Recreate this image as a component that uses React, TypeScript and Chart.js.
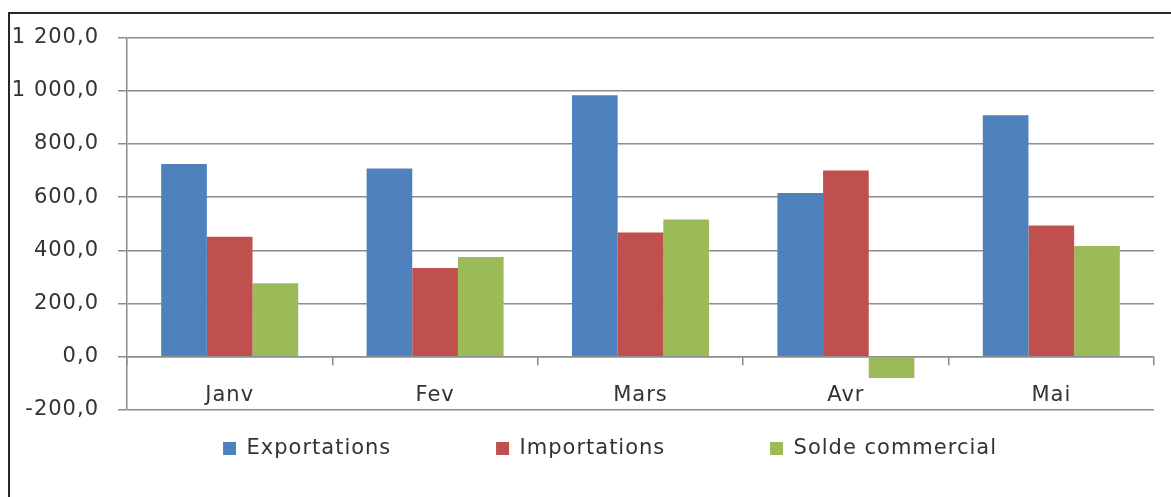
import React, { useEffect, useRef } from 'react';
import { Chart, registerables } from 'chart.js';

Chart.register(...registerables);

const categories = ['Janv', 'Fev', 'Mars', 'Avr', 'Mai'];
const exportations = [725, 708, 983, 616, 908];
const importations = [451, 334, 467, 700, 493];
const soldeCommercial = [276, 375, 516, -80, 416];
const seriesNames = ['Exportations', 'Importations', 'Solde commercial'];
const seriesColors = ['#4F81BD', '#C0504D', '#9BBB59'];
const yMin = -200;
const yMax = 1200;
const yStep = 200;

const FONT = "'DejaVu Sans', sans-serif";
const FONT_SIZE = 21;
const LETTER_SPACING = '1px';
const TEXT_COLOR = '#333333';
const GRID_COLOR = '#8c8c8c';
const LEGEND_TRAIL = [10, 10, 0];

function formatFr(v: number): string {
  const neg = v < 0;
  const [ip, dp] = Math.abs(v).toFixed(1).split('.');
  const withSep = ip.replace(/\B(?=(\d{3})+(?!\d))/g, ' ');
  return (neg ? '-' : '') + withSep + ',' + dp;
}

const spacingPlugin = {
  id: 'letterSpacingPlugin',
  beforeUpdate(chart: any) {
    chart.ctx.letterSpacing = LETTER_SPACING;
  },
  beforeLayout(chart: any) {
    chart.ctx.letterSpacing = LETTER_SPACING;
  },
  beforeDraw(chart: any) {
    chart.ctx.letterSpacing = LETTER_SPACING;
  },
};

export default function App() {
  const canvasRef = useRef<HTMLCanvasElement | null>(null);

  useEffect(() => {
    const canvas = canvasRef.current;
    if (!canvas) return;
    const values = [exportations, importations, soldeCommercial];
    const chart = new Chart(canvas, {
      type: 'bar',
      data: {
        labels: categories,
        datasets: seriesNames.map((name, i) => ({
          label: name,
          data: values[i],
          backgroundColor: seriesColors[i],
          borderWidth: 0,
          categoryPercentage: 0.667,
          barPercentage: 1.0,
        })),
      },
      options: {
        responsive: false,
        maintainAspectRatio: false,
        animation: false,
        devicePixelRatio: 1,
        layout: { padding: { top: 23.5, left: 0, right: 0, bottom: 0 } },
        plugins: {
          tooltip: { enabled: false },
          title: { display: false },
          legend: {
            display: true,
            position: 'bottom',
            labels: {
              boxWidth: 13,
              boxHeight: 13,
              padding: 28,
              color: TEXT_COLOR,
              font: { family: FONT, size: FONT_SIZE },
              generateLabels: (c: any) => {
                const items = (Chart.defaults.plugins.legend.labels as any).generateLabels(c);
                return items.map((it: any, i: number) => ({
                  ...it,
                  text: it.text + ' '.repeat(LEGEND_TRAIL[i] || 0),
                  lineWidth: 0,
                }));
              },
            },
          },
        },
        scales: {
          x: {
            position: { y: 0 } as any,
            offset: true,
            grid: {
              display: true,
              drawOnChartArea: false,
              drawTicks: true,
              tickLength: 8,
              offset: true,
              color: GRID_COLOR,
              lineWidth: 1.5,
            },
            border: { display: true, color: GRID_COLOR, width: 1.5 },
            ticks: {
              color: TEXT_COLOR,
              font: { family: FONT, size: FONT_SIZE },
              padding: 18,
              maxRotation: 0,
              autoSkip: false,
            },
          },
          y: {
            position: 'left',
            min: yMin,
            max: yMax,
            afterFit: (s: any) => {
              s.width = 117;
              s.paddingTop = 0;
              s.paddingBottom = 0;
            },
            grid: {
              display: true,
              drawOnChartArea: true,
              drawTicks: true,
              tickLength: 9,
              color: GRID_COLOR,
              lineWidth: 1.5,
            },
            border: { display: true, color: GRID_COLOR, width: 1.5 },
            ticks: {
              stepSize: yStep,
              color: TEXT_COLOR,
              font: { family: FONT, size: FONT_SIZE },
              padding: 19,
              callback: (v: any) => formatFr(Number(v)),
            },
          },
          yRight: {
            type: 'linear',
            position: 'right',
            display: true,
            afterFit: (s: any) => {
              s.width = 56;
              s.paddingTop = 0;
              s.paddingBottom = 0;
            },
            grid: { display: false, drawTicks: false },
            border: { display: false },
            ticks: { display: false },
          },
        },
      },
      plugins: [spacingPlugin],
    } as any);
    return () => {
      chart.destroy();
    };
  }, []);

  return (
    <div
      style={{
        position: 'absolute',
        left: 8,
        top: 12,
        width: 1161,
        height: 483,
        borderTop: '2px solid #262626',
        borderLeft: '2px solid #262626',
        overflow: 'hidden',
        background: '#ffffff',
      }}
    >
      <canvas
        ref={canvasRef}
        width={1200}
        height={455}
        style={{ position: 'absolute', left: 0, top: 0, width: 1200, height: 455 }}
      />
    </div>
  );
}
